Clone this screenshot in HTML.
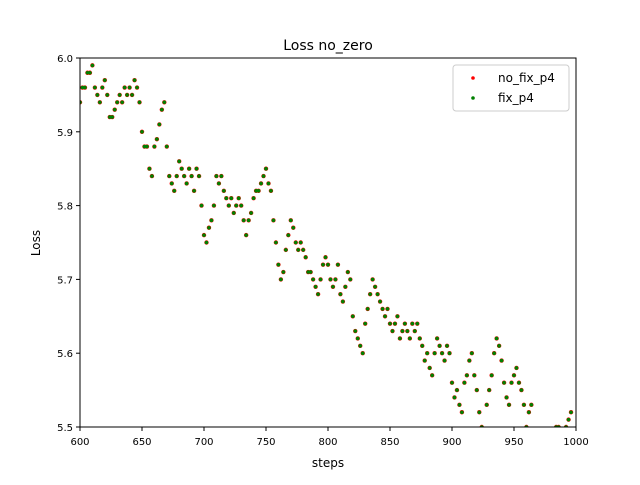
<!DOCTYPE html>
<html><head><meta charset="utf-8"><style>
body{margin:0;background:#fff;font-family:"Liberation Sans","DejaVu Sans",sans-serif}
</style></head><body>
<svg id="chart" width="640" height="480" xmlns="http://www.w3.org/2000/svg" font-family="DejaVu Sans, Liberation Sans, sans-serif">
<defs><clipPath id="pc"><rect x="80" y="58" width="496" height="369"/></clipPath></defs>
<text x="328" y="50" font-size="14" text-anchor="middle">Loss no_zero</text>
<g id="xt"></g><g id="yt"></g>
<g id="marks" clip-path="url(#pc)"></g>
<rect x="80" y="58" width="496" height="369" fill="none" stroke="#000" stroke-width="1"/>
<text x="328" y="467" font-size="12" text-anchor="middle">steps</text>
<text x="40" y="243" font-size="12" text-anchor="middle" transform="rotate(-90 40 243)">Loss</text>
<g>
<rect x="453" y="65" width="116" height="46" rx="3" fill="#fff" stroke="#ccc"/>
<circle cx="473" cy="78" r="1.8" fill="red"/>
<text x="498" y="82" font-size="12">no_fix_p4</text>
<circle cx="473" cy="98" r="1.8" fill="green"/>
<text x="498" y="102" font-size="12">fix_p4</text>
</g>
</svg>
<script>
const xTicks=[600,650,700,750,800,850,900,950,1000];
const yTicks=[5.5,5.6,5.7,5.8,5.9,6.0];
const yTickLabels=["5.5","5.6","5.7","5.8","5.9","6.0"];
const stepStart=600, stepInc=2;
const lossNoFix=[
5.94,5.96,5.96,5.98,5.98, 5.99,5.96,5.95,5.94,5.96, 5.97,5.95,5.92,5.92,5.93,
5.94,5.95,5.94,5.96,5.95, 5.96,5.95,5.97,5.96,5.94, 5.90,5.88,5.88,5.85,5.84,
5.88,5.89,5.91,5.93,5.94, 5.88,5.84,5.83,5.82,5.84, 5.86,5.85,5.84,5.83,5.85,
5.84,5.82,5.85,5.84,5.80, 5.76,5.75,5.77,5.78,5.80, 5.84,5.83,5.84,5.82,5.81,
5.80,5.81,5.79,5.80,5.81, 5.80,5.78,5.76,5.78,5.79, 5.81,5.82,5.82,5.83,5.84,
5.85,5.83,5.82,5.78,5.75, 5.72,5.70,5.71,5.74,5.76, 5.78,5.77,5.75,5.74,5.75,
5.74,5.73,5.71,5.71,5.70, 5.69,5.68,5.70,5.72,5.73, 5.72,5.70,5.69,5.70,5.72,
5.68,5.67,5.69,5.71,5.70, 5.65,5.63,5.62,5.61,5.60, 5.64,5.66,5.68,5.70,5.69,
5.68,5.67,5.66,5.65,5.66, 5.64,5.63,5.64,5.65,5.62, 5.63,5.64,5.63,5.62,5.64,
5.63,5.64,5.62,5.61,5.59, 5.60,5.58,5.57,5.60,5.62, 5.61,5.60,5.59,5.61,5.60,
5.56,5.54,5.55,5.53,5.52, 5.56,5.57,5.59,5.60,5.57, 5.55,5.52,5.50,5.49,5.53,
5.55,5.57,5.60,5.62,5.61, 5.59,5.56,5.54,5.53,5.56, 5.57,5.58,5.56,5.55,5.53,
5.50,5.52,5.53,5.49,5.48, 5.47,5.46,5.45,5.46,5.47, 5.48,5.49,5.50,5.50,5.49,
5.49,5.50,5.51,5.52];
const lossFix=lossNoFix.slice();
const X=s=>80+(s-600)*496/400;
const Y=v=>427-(v-5.5)*369/0.5;
const NS="http://www.w3.org/2000/svg";
const xt=document.getElementById('xt'),yt=document.getElementById('yt'),mk=document.getElementById('marks');
function mkEl(t,a){const e=document.createElementNS(NS,t);for(const k in a)e.setAttribute(k,a[k]);return e;}
xTicks.forEach(t=>{
 const l=mkEl('line',{x1:X(t),x2:X(t),y1:427,y2:431,stroke:'#000'});
 
 
 xt.appendChild(l);
 const tx=mkEl('text',{x:X(t),y:445,'font-size':10,'text-anchor':'middle'});tx.textContent=t;
 
 
 xt.appendChild(tx);
});
yTicks.forEach((t,i)=>{
 const l=mkEl('line',{x1:76,x2:80,y1:Y(t),y2:Y(t),stroke:'#000'});
 
 
 yt.appendChild(l);
 const tx=mkEl('text',{x:73,y:Y(t)+4,'font-size':10,'text-anchor':'end'});tx.textContent=yTickLabels[i];
 
 
 yt.appendChild(tx);
});
lossNoFix.forEach((v,i)=>{
 const c=mkEl('circle',{cx:X(stepStart+i*stepInc),cy:Y(v),r:2.2,fill:'red'});
 
 
 mk.appendChild(c);
});
lossFix.forEach((v,i)=>{
 const c=mkEl('circle',{cx:X(stepStart+i*stepInc),cy:Y(v),r:1.8,fill:'green'});
 
 
 mk.appendChild(c);
});
</script>
</body></html>
